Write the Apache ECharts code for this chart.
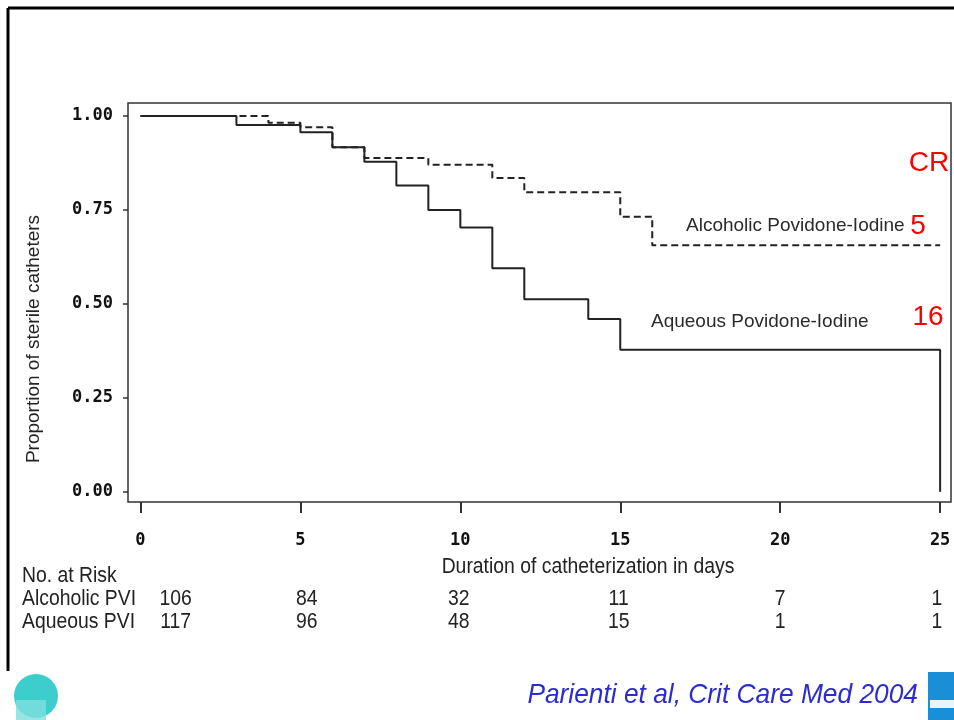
<!DOCTYPE html>
<html>
<head>
    <meta charset="UTF-8">
    <title>Sterile catheters</title>
    <script src="https://cdn.jsdelivr.net/npm/echarts@6/dist/echarts.min.js"></script>
    <style>
        html, body { margin: 0; padding: 0; background: #fff; }
        #main { width: 954px; height: 720px; }
    </style>
</head>
<body>
<div id="main"></div>
<script type="text/javascript">

    // Kaplan-Meier steps (day, proportion)
    var alcoholicDays = [0, 4, 5, 6, 7, 9, 11, 12, 15, 16, 25];
    var alcoholicSurv = [1.00, 0.982, 0.970, 0.917, 0.888, 0.870, 0.835, 0.797, 0.732, 0.656, 0.656];
    var aqueousDays = [0, 3, 5, 6, 7, 8, 9, 10, 11, 12, 14, 15, 25];
    var aqueousSurv = [1.00, 0.976, 0.957, 0.917, 0.878, 0.815, 0.750, 0.703, 0.595, 0.512, 0.460, 0.378, 0.0];

    var xTicks = [0, 5, 10, 15, 20, 25];
    var yTicks = [0, 0.25, 0.5, 0.75, 1];

    // number at risk table
    var riskGroups = ['Alcoholic PVI', 'Aqueous PVI'];
    var riskAlcoholic = [106, 84, 32, 11, 7, 1];
    var riskAqueous = [117, 96, 48, 15, 1, 1];
    var riskColDay = [1.1, 5.2, 9.95, 14.95, 20, 24.9];

    var sansFont = '"Liberation Sans", Arial, sans-serif';

    function pairs(xs, ys) {
        var out = [];
        for (var i = 0; i < xs.length; i++) out.push([xs[i], ys[i]]);
        return out;
    }

    // narrow-looking text (scaled horizontally around its anchor)
    function narrowText(x, y, text, size, align) {
        return {
            type: 'text', x: x, y: y, scaleX: 0.88,
            style: { text: text, font: size + 'px ' + sansFont, fill: '#222', textAlign: align || 'left', textVerticalAlign: 'middle' }
        };
    }

    var myChart = echarts.init(document.getElementById('main'));

    option = {
        animation: false,
        backgroundColor: '#fff',
        grid: {
            left: 128, top: 103, right: 3, bottom: 218,
            show: true,
            borderColor: '#333',
            borderWidth: 1.5
        },
        xAxis: {
            type: 'value',
            min: -0.39,
            max: 25.34,
            splitLine: { show: false },
            axisLine: { show: false, onZero: false },
            axisTick: {
                show: true, inside: false, customValues: xTicks, length: 11,
                lineStyle: { color: '#333', width: 2 }
            },
            axisLabel: {
                customValues: xTicks, margin: 30,
                fontFamily: '"DejaVu Sans Mono", monospace',
                fontWeight: 'bold', fontSize: 17, color: '#111'
            }
        },
        yAxis: {
            type: 'value',
            min: -0.0274,
            max: 1.0346,
            splitLine: { show: false },
            axisLine: { show: false, onZero: false },
            axisTick: {
                show: true, inside: false, customValues: yTicks, length: 5,
                lineStyle: { color: '#333', width: 1.5 }
            },
            axisLabel: {
                customValues: yTicks, margin: 15,
                fontFamily: '"DejaVu Sans Mono", monospace',
                fontWeight: 'bold', fontSize: 17, color: '#111',
                formatter: function (v) { return v.toFixed(2); }
            }
        },
        series: [
            {
                name: 'Alcoholic Povidone-Iodine',
                type: 'line',
                step: 'end',
                symbol: 'none',
                data: pairs(alcoholicDays, alcoholicSurv),
                lineStyle: { color: '#222', width: 2, type: [7, 4] }
            },
            {
                name: 'Aqueous Povidone-Iodine',
                type: 'line',
                step: 'end',
                symbol: 'none',
                data: pairs(aqueousDays, aqueousSurv),
                lineStyle: { color: '#222', width: 2 }
            }
        ]
    };
    myChart.setOption(option);

    // texts and decorations placed around the plot
    var g = [
        // slide frame
        { type: 'line', shape: { x1: 8, y1: 8, x2: 954, y2: 8 }, style: { stroke: '#000', lineWidth: 3 } },
        { type: 'line', shape: { x1: 8, y1: 8, x2: 8, y2: 671 }, style: { stroke: '#000', lineWidth: 3 } },
        {
            type: 'text', x: 34, y: 339, rotation: Math.PI / 2,
            style: { text: 'Proportion of sterile catheters', font: '19px ' + sansFont, fill: '#222', textAlign: 'center', textVerticalAlign: 'middle' }
        },
        narrowText(588, 567, 'Duration of catheterization in days', 22, 'center'),
        {
            type: 'text', x: 686, y: 226,
            style: { text: 'Alcoholic Povidone-Iodine', font: '19px ' + sansFont, fill: '#2a2a2a', textAlign: 'left', textVerticalAlign: 'middle' }
        },
        {
            type: 'text', x: 651, y: 322,
            style: { text: 'Aqueous Povidone-Iodine', font: '19px ' + sansFont, fill: '#2a2a2a', textAlign: 'left', textVerticalAlign: 'middle' }
        },
        { type: 'text', x: 929, y: 163, style: { text: 'CR', font: '28px ' + sansFont, fill: '#ff0000', textAlign: 'center', textVerticalAlign: 'middle' } },
        { type: 'text', x: 918, y: 226, style: { text: '5', font: '28px ' + sansFont, fill: '#ff0000', textAlign: 'center', textVerticalAlign: 'middle' } },
        { type: 'text', x: 928, y: 317, style: { text: '16', font: '28px ' + sansFont, fill: '#ff0000', textAlign: 'center', textVerticalAlign: 'middle' } },
        narrowText(22, 576, 'No. at Risk', 22),
        narrowText(22, 599, riskGroups[0], 22),
        narrowText(22, 622, riskGroups[1], 22),
        {
            type: 'text', x: 918, y: 695, scaleX: 0.94,
            style: { text: 'Parienti et al, Crit Care Med 2004', font: 'italic 28px ' + sansFont, fill: '#2b2bd0', textAlign: 'right', textVerticalAlign: 'middle' }
        },
        // logos
        { type: 'circle', shape: { cx: 36, cy: 696, r: 22 }, style: { fill: '#1cc4c4', opacity: 0.85 } },
        { type: 'rect', shape: { x: 16, y: 700, width: 30, height: 20 }, style: { fill: '#7fdede', opacity: 0.8 } },
        { type: 'rect', shape: { x: 928, y: 672, width: 26, height: 48 }, style: { fill: '#1a8fd8' } },
        { type: 'rect', shape: { x: 930, y: 700, width: 24, height: 8 }, style: { fill: '#e8f4fb' } }
    ];

    for (var i = 0; i < riskColDay.length; i++) {
        var px = myChart.convertToPixel({ xAxisIndex: 0 }, riskColDay[i]);
        g.push(narrowText(px, 599, String(riskAlcoholic[i]), 22, 'center'));
        g.push(narrowText(px, 622, String(riskAqueous[i]), 22, 'center'));
    }

    myChart.setOption({ graphic: { elements: g } });
</script>
</body>
</html>
